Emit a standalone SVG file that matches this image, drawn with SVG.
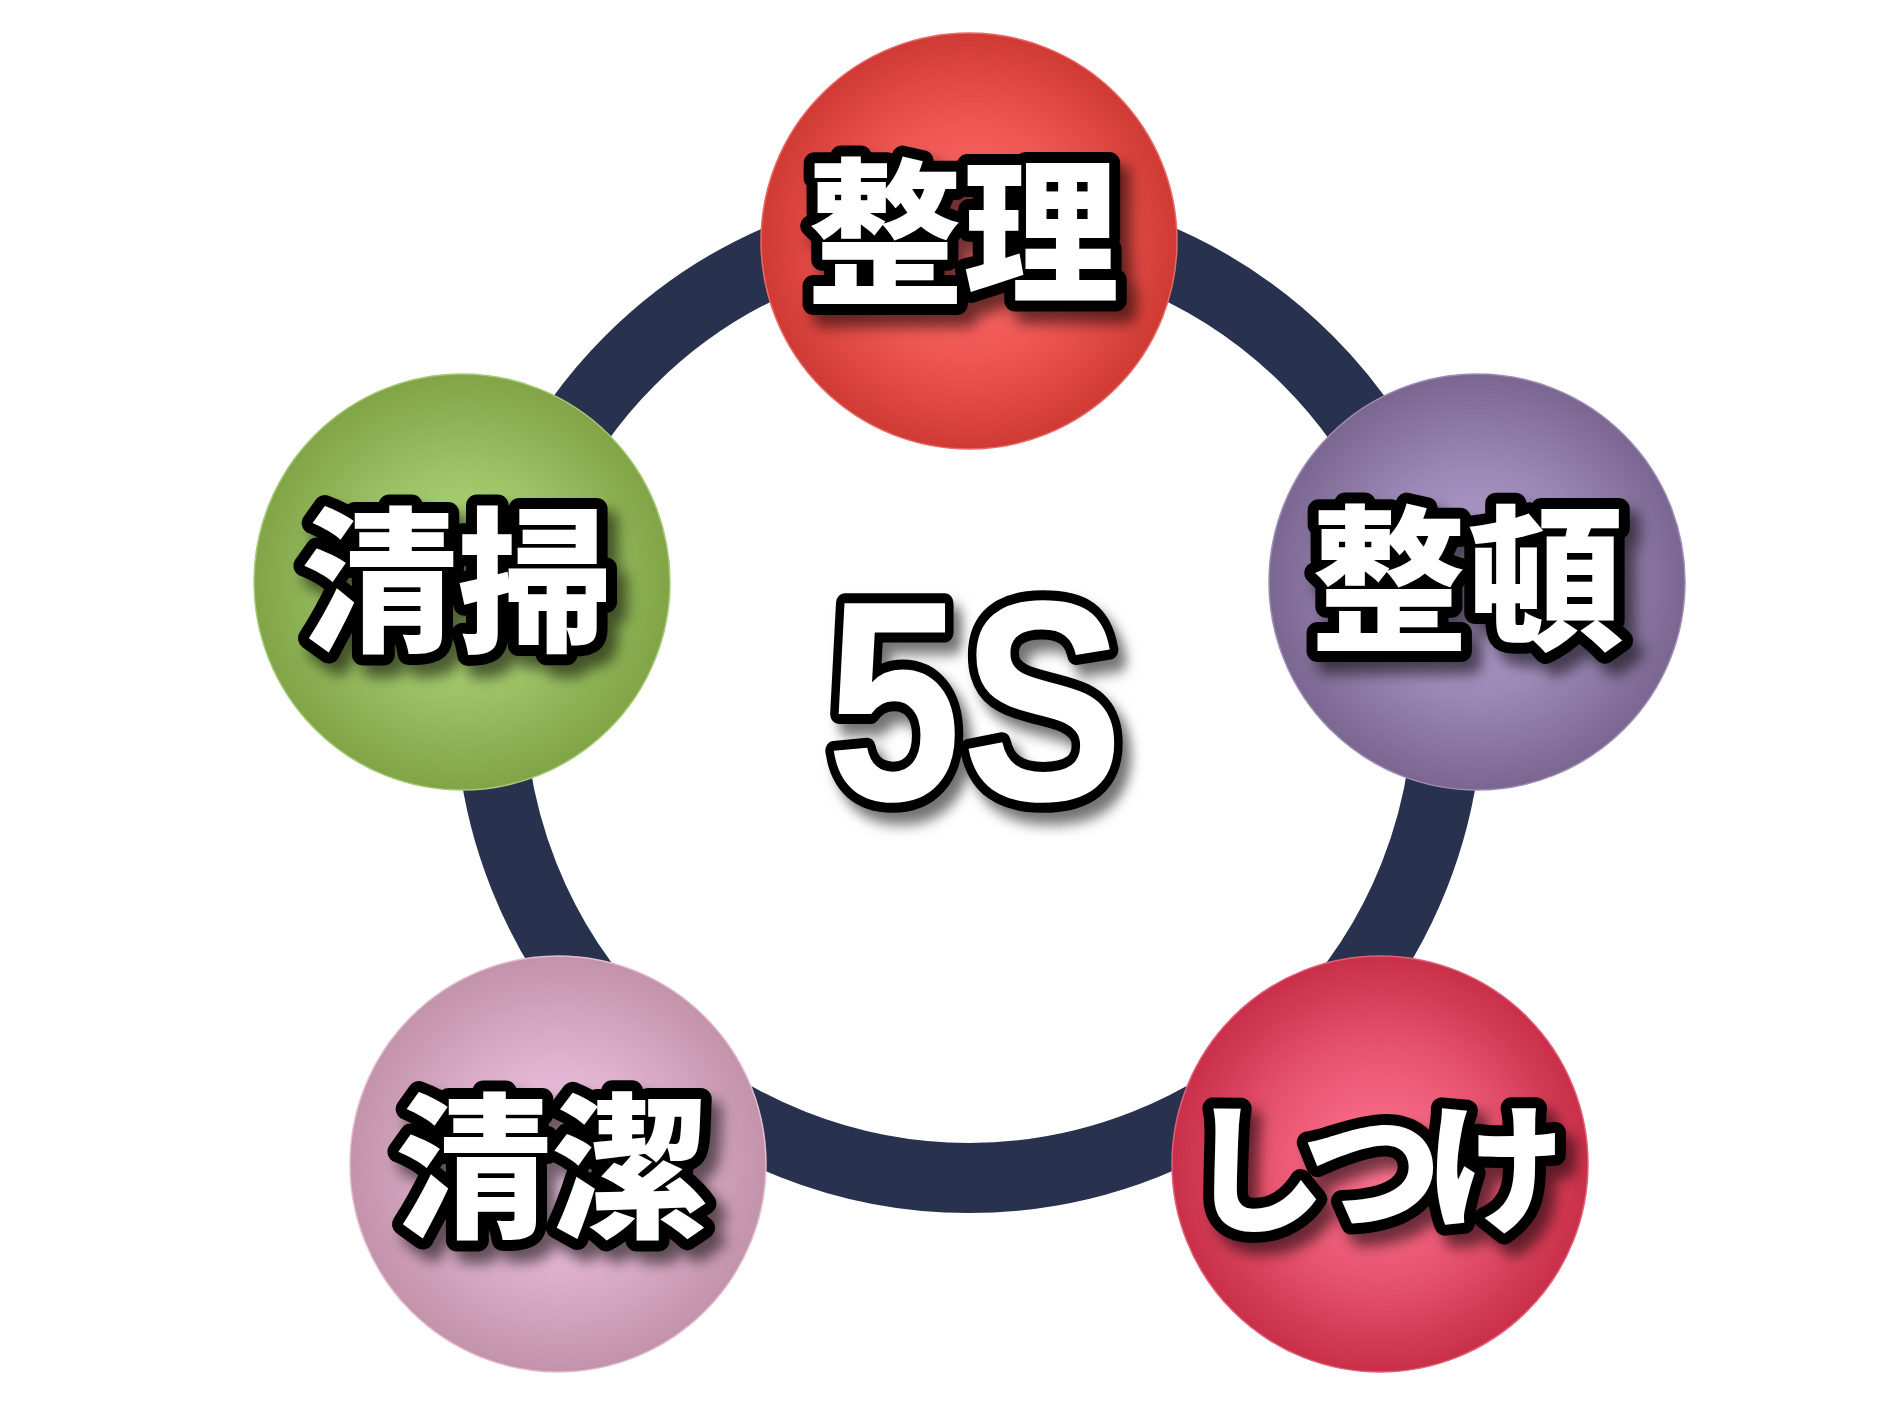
<svg xmlns="http://www.w3.org/2000/svg" width="1881" height="1410" viewBox="0 0 1881 1410">
<style>
.lbl{font-family:"Noto Sans CJK JP","Noto Sans CJK SC",sans-serif;font-weight:900;fill:#fff;stroke:#000;stroke-width:22;stroke-linejoin:round;paint-order:stroke;text-anchor:middle;dominant-baseline:central;filter:url(#sh)}
.big{font-family:"Liberation Sans",Arial,sans-serif;font-weight:700;fill:#fff;stroke:#000;stroke-width:20;stroke-linejoin:round;paint-order:stroke;text-anchor:middle;filter:url(#sh)}
.ball{stroke-width:1.5}
</style>
<defs>
<filter id="sh" x="-20%" y="-20%" width="150%" height="160%">
<feDropShadow dx="10" dy="12" stdDeviation="7" flood-color="#000" flood-opacity="0.55"/>
</filter>
<radialGradient id="gRed" cx="50%" cy="50%" r="50%"><stop offset="0" stop-color="#FF6E6E"/><stop offset="0.55" stop-color="#EF5753"/><stop offset="1" stop-color="#D03A34"/></radialGradient>
<radialGradient id="gPur" cx="50%" cy="50%" r="50%"><stop offset="0" stop-color="#BAA6D6"/><stop offset="0.55" stop-color="#9C88B5"/><stop offset="1" stop-color="#7A6690"/></radialGradient>
<radialGradient id="gGrn" cx="50%" cy="50%" r="50%"><stop offset="0" stop-color="#B8E184"/><stop offset="0.55" stop-color="#9CC265"/><stop offset="1" stop-color="#80A446"/></radialGradient>
<radialGradient id="gPnk" cx="50%" cy="50%" r="50%"><stop offset="0" stop-color="#F8D0EC"/><stop offset="0.55" stop-color="#DCAECA"/><stop offset="1" stop-color="#C293A9"/></radialGradient>
<radialGradient id="gCrm" cx="50%" cy="50%" r="50%"><stop offset="0" stop-color="#FF7592"/><stop offset="0.55" stop-color="#E85470"/><stop offset="1" stop-color="#C92F48"/></radialGradient>
</defs>
<rect width="1881" height="1410" fill="#fff"/>
<g id="connectors">
<circle cx="969" cy="699" r="479" fill="none" stroke="#28314E" stroke-width="70"/>
</g>
<g id="center-5s">
<text class="big" x="0" y="0" font-size="286" transform="translate(975,800) scale(0.85,1)">5S</text>
</g>
<g id="node-seiri">
<circle class="ball" cx="969" cy="241" r="208" fill="url(#gRed)" stroke="#E86A66"/>
<text class="lbl" x="963" y="222" font-size="156">整理</text>
</g>
<g id="node-seiton">
<circle class="ball" cx="1477" cy="582" r="208" fill="url(#gPur)" stroke="#9F8DB5"/>
<text class="lbl" x="1467" y="569" font-size="156">整頓</text>
</g>
<g id="node-shitsuke">
<circle class="ball" cx="1380" cy="1164" r="208" fill="url(#gCrm)" stroke="#E06079"/>
<text class="lbl" x="1368" y="1160" font-size="140" letter-spacing="-16">しつけ</text>
</g>
<g id="node-seiketsu">
<circle class="ball" cx="558" cy="1164" r="208" fill="url(#gPnk)" stroke="#E3BCD2"/>
<text class="lbl" x="551" y="1157" font-size="156">清潔</text>
</g>
<g id="node-seiso">
<circle class="ball" cx="462" cy="582" r="208" fill="url(#gGrn)" stroke="#A6CB78"/>
<text class="lbl" x="457" y="571" font-size="156">清掃</text>
</g>
</svg>
